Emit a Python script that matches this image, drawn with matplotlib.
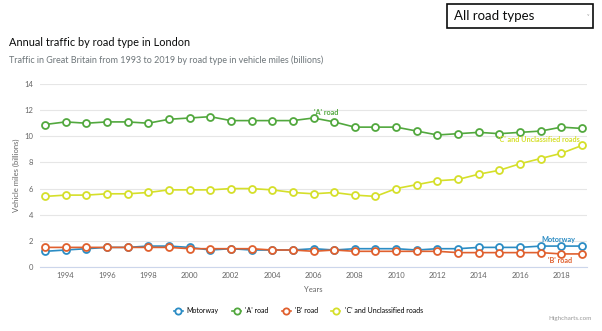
import matplotlib
matplotlib.use("Agg")
import matplotlib.pyplot as plt
from matplotlib.patches import Rectangle

plt.rcParams['font.family'] = ['Lato', 'DejaVu Sans']

# 数据
years = list(range(1993, 2020))
motorway = [1.2, 1.3, 1.4, 1.5, 1.5, 1.6, 1.6, 1.5, 1.3, 1.4, 1.3, 1.3, 1.3,
            1.4, 1.3, 1.4, 1.4, 1.4, 1.3, 1.4, 1.4, 1.5, 1.5, 1.5, 1.6, 1.6, 1.6]
a_road = [10.9, 11.1, 11.0, 11.1, 11.1, 11.0, 11.3, 11.4, 11.5, 11.2, 11.2, 11.2, 11.2,
          11.4, 11.1, 10.7, 10.7, 10.7, 10.4, 10.1, 10.2, 10.3, 10.2, 10.3, 10.4, 10.7, 10.6]
b_road = [1.5, 1.5, 1.5, 1.5, 1.5, 1.5, 1.5, 1.4, 1.4, 1.4, 1.4, 1.3, 1.3,
          1.2, 1.3, 1.2, 1.2, 1.2, 1.2, 1.2, 1.1, 1.1, 1.1, 1.1, 1.1, 1.0, 1.0]
c_road = [5.4, 5.5, 5.5, 5.6, 5.6, 5.7, 5.9, 5.9, 5.9, 6.0, 6.0, 5.9, 5.7,
          5.6, 5.7, 5.5, 5.4, 6.0, 6.3, 6.6, 6.7, 7.1, 7.4, 7.9, 8.3, 8.7, 9.3]

names = ['Motorway', "'A' road", "'B' road", "'C' and Unclassified roads"]
colors = ['#2b8cc4', '#52a83e', '#e0602e', '#d5df2a']
series = [motorway, a_road, b_road, c_road]

fig = plt.figure(figsize=(6.02, 3.31), dpi=100)
ax = fig.add_axes([40 / 602, 1 - 267 / 331, 547 / 602, 183 / 331])

for name, col, vals in zip(names, colors, series):
    ax.plot(years, vals, color=col, lw=1.2, marker='o', ms=5, mfc='white',
            mec=col, mew=1.3, label=name, zorder=3)

ax.set_xlim(1992.76, 2019.24)
ax.set_ylim(0, 14)
ax.set_yticks(range(0, 15, 2))
ax.set_xticks(range(1994, 2019, 2))
ax.grid(axis='y', color='#e6e6e6', lw=0.8)
for s in ['top', 'right', 'left']:
    ax.spines[s].set_visible(False)
ax.spines['bottom'].set_color('#ccd6eb')
ax.tick_params(axis='both', length=0, labelsize=5.5, labelcolor='#666666')
ax.tick_params(axis='y', pad=5)
ax.set_xlabel('Years', fontsize=5.5, color='#666666', labelpad=5)
ax.set_ylabel('Vehicle miles (billions)', fontsize=5.5, color='#666666', labelpad=3)

# 线上标签
lab = dict(textcoords='offset points', fontsize=5.2, fontweight='bold')
ax.annotate("'A' road", (2006, 11.4), xytext=(0, 3.6), ha='left', va='center',
            color=colors[1], **lab)
ax.annotate("'C' and Unclassified roads", (2019, 9.3), xytext=(-1.4, 4.3), ha='right',
            va='center', color=colors[3], **lab)
ax.annotate('Motorway', (2019, 1.6), xytext=(-5, 5), ha='right', va='center',
            color=colors[0], **lab)
ax.annotate("'B' road", (2019, 1.0), xytext=(-7, -4.7), ha='right', va='center',
            color=colors[2], **lab)

ax.legend(loc='upper center', bbox_to_anchor=(0.472, -0.185), ncol=4, frameon=False,
          fontsize=5, handlelength=1.3, columnspacing=1.9, handletextpad=0.6,
          markerscale=0.9)

fig.text(9 / 602, 1 - 42 / 331, 'Annual traffic by road type in London',
         fontsize=7.9, color='#0b0c0c', va='center')
fig.text(9 / 602, 1 - 60 / 331,
         'Traffic in Great Britain from 1993 to 2019 by road type in vehicle miles (billions)',
         fontsize=6.5, color='#6f777b', va='center')

# 下拉框
fig.patches.append(Rectangle((447 / 602, 1 - 28 / 331), 146 / 602, 24 / 331,
                             transform=fig.transFigure, fill=False,
                             edgecolor='#0b0c0c', lw=1.2))
fig.text(454 / 602, 1 - 16 / 331, 'All road types', fontsize=9.5, color='#0b0c0c', va='center')
fig.text(589 / 602, 1 - 16 / 331, '\u02c5', fontsize=4, color='#999999', va='center', ha='right')

fig.text(592 / 602, 1 - 320 / 331, 'Highcharts.com', fontsize=4.5, color='#999999', ha='right')

fig.savefig('out.png', dpi=100)
